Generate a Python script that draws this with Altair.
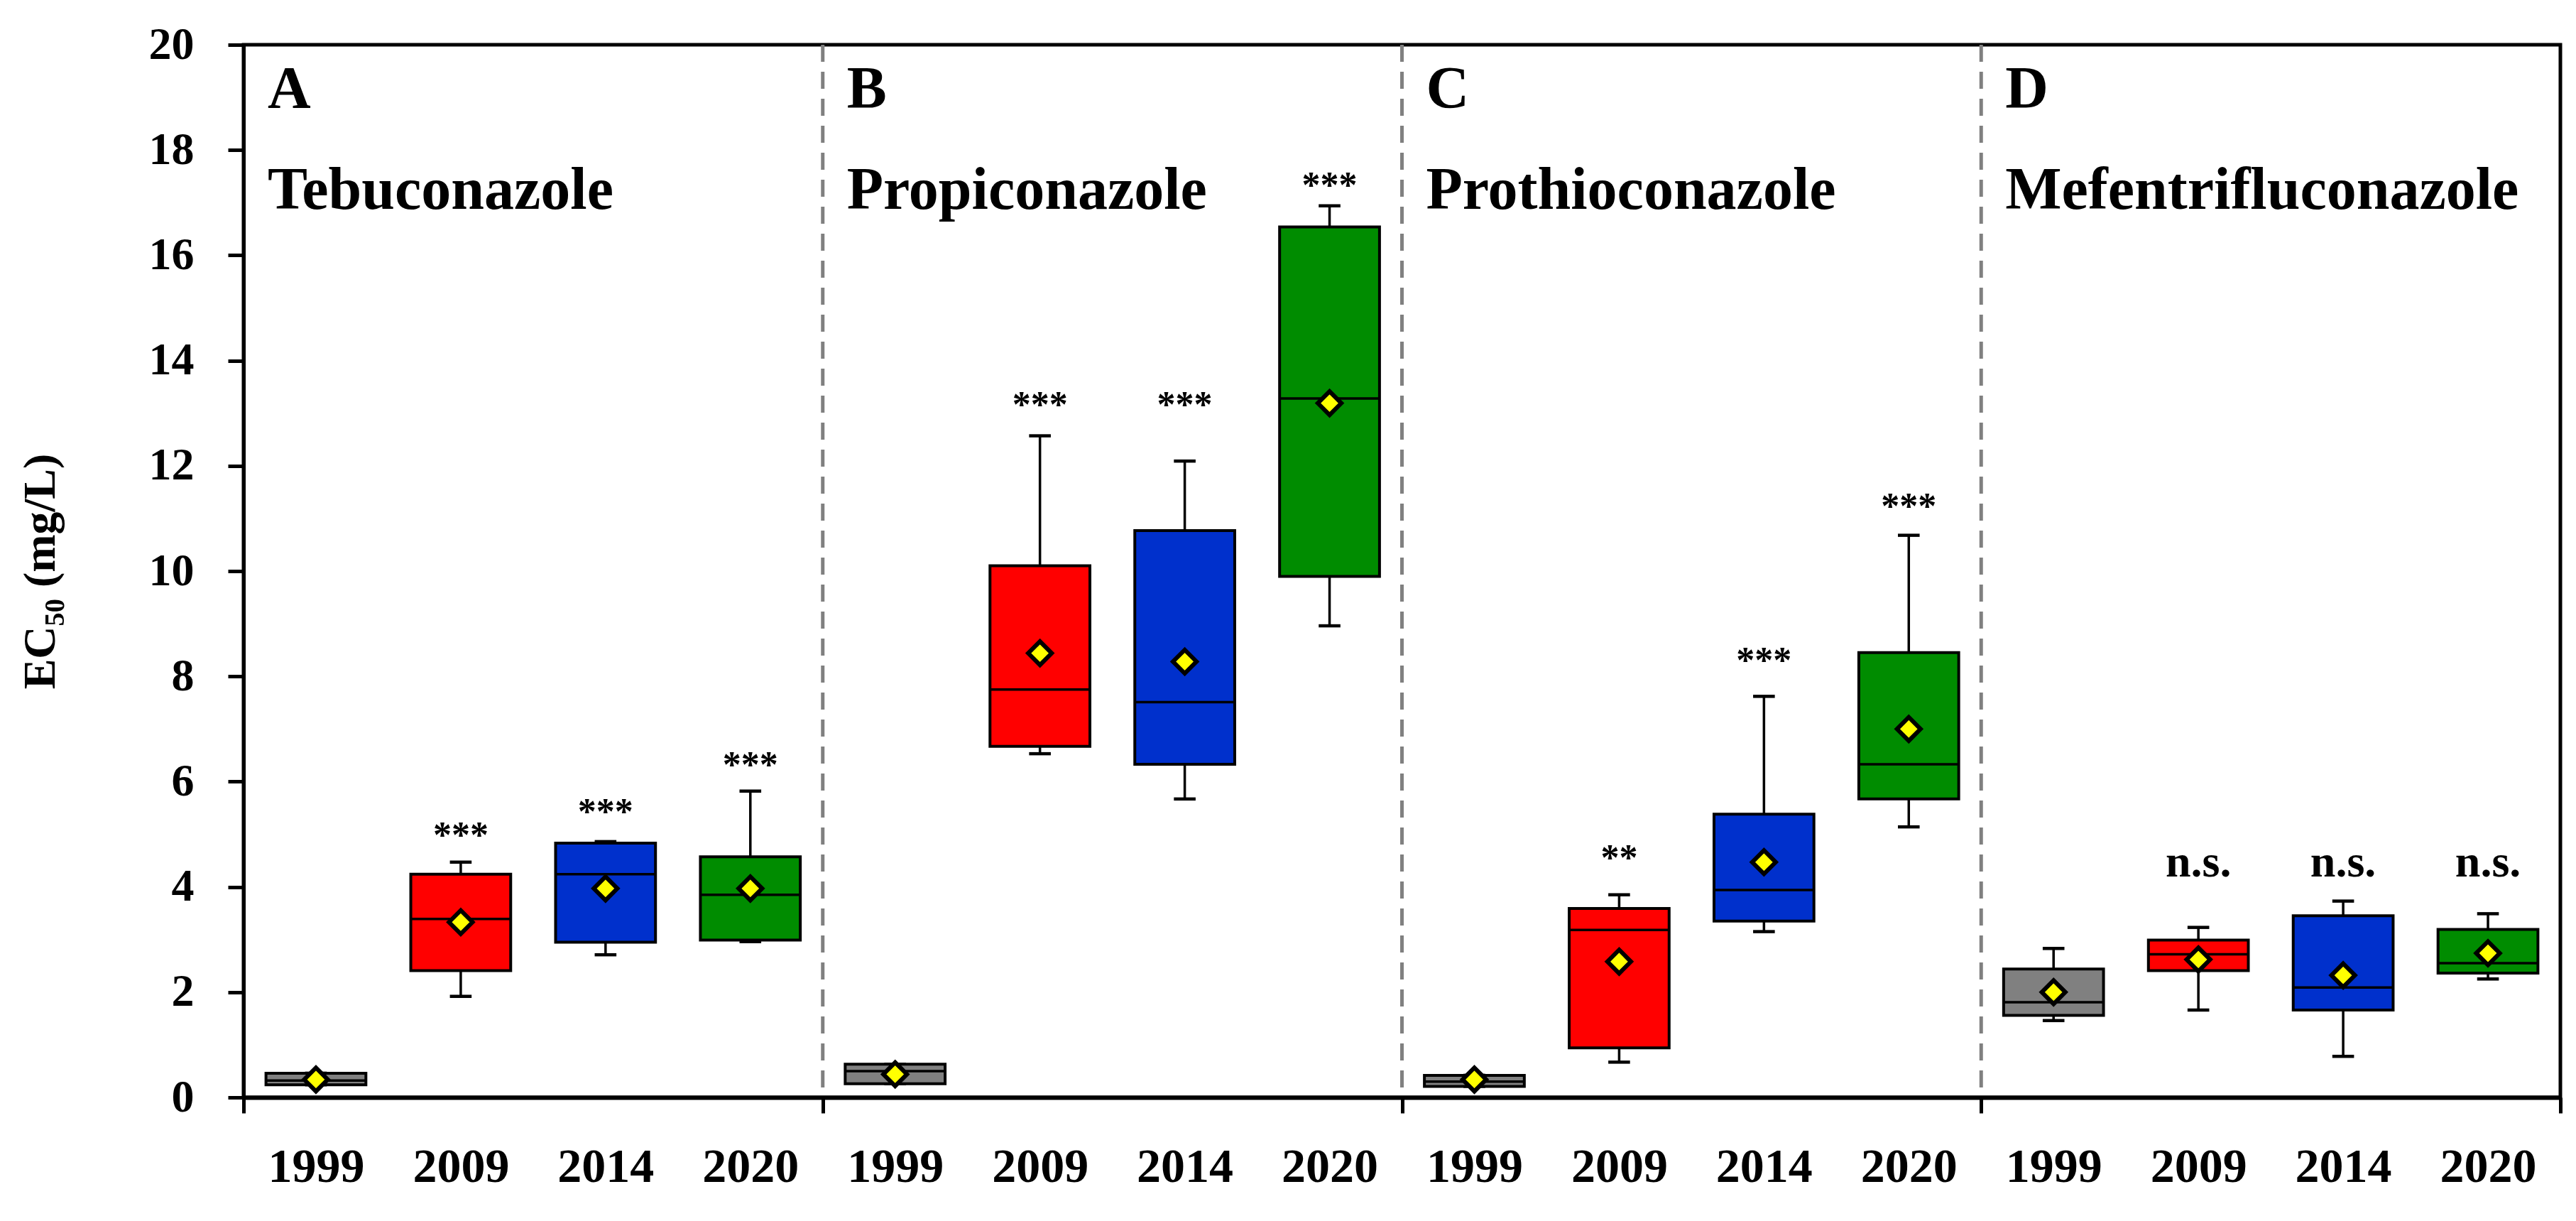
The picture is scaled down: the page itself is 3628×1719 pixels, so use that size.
import altair as alt
import pandas as pd

# ---------------- data ----------------
fungicides = ["Tebuconazole", "Propiconazole", "Prothioconazole", "Mefentrifluconazole"]
letters = ["A", "B", "C", "D"]
years = ["1999", "2009", "2014", "2020"]
colors = ["#808080", "#FF0000", "#0030CC", "#008C00"]

whisk_low = [[0.24, 1.92, 2.71, 2.96], [0.26, 6.53, 5.67, 8.96], [0.21, 0.67, 3.15, 5.14], [1.46, 1.66, 0.78, 2.25]]
q1 = [[0.24, 2.41, 2.95, 2.99], [0.26, 6.67, 6.33, 9.90], [0.21, 0.94, 3.35, 5.67], [1.56, 2.41, 1.66, 2.36]]
median = [[0.32, 3.39, 4.24, 3.85], [0.50, 7.75, 7.51, 13.28], [0.30, 3.18, 3.94, 6.33], [1.81, 2.72, 2.09, 2.55]]
q3 = [[0.46, 4.24, 4.83, 4.57], [0.63, 10.10, 10.77, 16.54], [0.42, 3.59, 5.38, 8.45], [2.44, 2.99, 3.45, 3.19]]
whisk_high = [[0.46, 4.47, 4.86, 5.82], [0.63, 12.57, 12.09, 16.94], [0.42, 3.85, 7.62, 10.68], [2.83, 3.23, 3.73, 3.49]]
mean = [[0.34, 3.33, 3.97, 3.97], [0.44, 8.44, 8.28, 13.19], [0.34, 2.58, 4.47, 7.00], [2.00, 2.62, 2.32, 2.74]]
sig = [["", "***", "***", "***"], ["", "***", "***", "***"], ["", "**", "***", "***"], ["", "n.s.", "n.s.", "n.s."]]
sig_y = [[0, 4.75, 5.19, 6.09], [0, 12.93, 12.93, 17.10], [0, 4.32, 8.07, 11.00], [0, 4.20, 4.20, 4.20]]
separators = [4, 8, 12]
boundaries = [0, 4, 8, 12, 16]
y_ticks = [0, 2, 4, 6, 8, 10, 12, 14, 16, 18, 20]

# ---------------- tables ----------------
rows = []
for p in range(4):
    for i in range(4):
        rows.append(dict(panel=p, slot=i, year=years[i],
                         lo=whisk_low[p][i], q1=q1[p][i], med=median[p][i],
                         q3=q3[p][i], hi=whisk_high[p][i], mean=mean[p][i],
                         sig=sig[p][i], sig_y=sig_y[p][i]))
df = pd.DataFrame(rows)
panels = pd.DataFrame({"panel": list(range(4)), "letter": letters, "name": fungicides})
seps = pd.DataFrame({"b": separators})

FONT = "Liberation Serif"
HALF = 0.345
CAP = 0.075

xscale = alt.Scale(domain=[0, 16], nice=False, zero=False)
yscale = alt.Scale(domain=[0, 20], nice=False, zero=True)

centers = [p * 4 + i + 0.5 for p in range(4) for i in range(4)]
label_expr = ""
for i, y in enumerate(years):
    label_expr += "floor(datum.value) % 4 == " + str(i) + " ? '" + y + "' : "
label_expr += "''"

x_axis_ticks = alt.Axis(
    values=boundaries, title=None, grid=False, labels=False, orient="bottom",
    tickSize=22, tickWidth=5, tickColor="black",
    domainWidth=6, domainColor="black",
)
x_axis_labels = alt.Axis(
    values=centers, title=None, grid=False, ticks=False, domain=False, orient="bottom",
    labelExpr=label_expr, labelPadding=64, labelOverlap=False, labelFlush=False,
    labelFont=FONT, labelFontSize=68, labelFontWeight="bold", labelColor="black",
)
y_axis = alt.Axis(
    values=y_ticks, title="EC₅₀ (mg/L)", grid=False, orient="left",
    tickSize=22, tickWidth=5, tickColor="black",
    domainWidth=5, domainColor="black",
    labelPadding=48, labelFont=FONT, labelFontSize=64, labelFontWeight="bold",
    labelColor="black", labelFlush=False,
    titleFont=FONT, titleFontSize=64, titleFontWeight="bold", titleColor="black",
    titlePadding=120,
)

base = alt.Chart(df).transform_calculate(
    pos="datum.panel * 4 + datum.slot + 0.5",
    bl="datum.panel * 4 + datum.slot + 0.5 - " + str(HALF),
    br="datum.panel * 4 + datum.slot + 0.5 + " + str(HALF),
    cl="datum.panel * 4 + datum.slot + 0.5 - " + str(CAP),
    cr="datum.panel * 4 + datum.slot + 0.5 + " + str(CAP),
)

sep_layer = alt.Chart(seps).mark_rule(color="#808080", strokeWidth=5, strokeDash=[24, 14]).encode(
    x=alt.X("b:Q", scale=xscale, axis=None)
)

whiskers = base.mark_rule(color="black", strokeWidth=3.5).encode(
    x=alt.X("pos:Q", scale=xscale, axis=None),
    y=alt.Y("lo:Q", scale=yscale, axis=y_axis),
    y2="hi:Q",
)
caps_lo = base.mark_rule(color="black", strokeWidth=4.5).encode(
    x=alt.X("cl:Q", scale=xscale, axis=None), x2="cr:Q",
    y=alt.Y("lo:Q", scale=yscale, axis=None),
)
caps_hi = base.mark_rule(color="black", strokeWidth=4.5).encode(
    x=alt.X("cl:Q", scale=xscale, axis=None), x2="cr:Q",
    y=alt.Y("hi:Q", scale=yscale, axis=None),
)
boxes = base.mark_bar(stroke="black", strokeWidth=4, opacity=1).encode(
    x=alt.X("bl:Q", scale=xscale, axis=x_axis_ticks), x2="br:Q",
    y=alt.Y("q1:Q", scale=yscale, axis=None), y2="q3:Q",
    color=alt.Color("year:N", scale=alt.Scale(domain=years, range=colors), legend=None),
)
medians = base.mark_rule(color="black", strokeWidth=3.5).encode(
    x=alt.X("bl:Q", scale=xscale, axis=x_axis_labels), x2="br:Q",
    y=alt.Y("med:Q", scale=yscale, axis=None),
)
means = base.mark_point(shape="diamond", filled=True, fill="#FFFF00", stroke="black",
                        strokeWidth=6, size=1100, opacity=1, fillOpacity=1, strokeOpacity=1).encode(
    x=alt.X("pos:Q", scale=xscale, axis=None),
    y=alt.Y("mean:Q", scale=yscale, axis=None),
)
sig_text = base.transform_filter("datum.sig != ''").mark_text(
    font=FONT, fontWeight="bold", color="black", baseline="alphabetic", align="center"
).encode(
    x=alt.X("pos:Q", scale=xscale, axis=None),
    y=alt.Y("sig_y:Q", scale=yscale, axis=None),
    text="sig:N",
    size=alt.condition("datum.sig == 'n.s.'", alt.value(64), alt.value(52)),
)

pbase = alt.Chart(panels).transform_calculate(px="datum.panel * 4", ly="18.8", ny="16.88")
letter_text = pbase.mark_text(font=FONT, fontWeight="bold", fontSize=84, color="black",
                              align="left", baseline="alphabetic", dx=34).encode(
    x=alt.X("px:Q", scale=xscale, axis=None),
    y=alt.Y("ly:Q", scale=yscale, axis=None),
    text="letter:N",
)
name_text = pbase.mark_text(font=FONT, fontWeight="bold", fontSize=84, color="black",
                            align="left", baseline="alphabetic", dx=34).encode(
    x=alt.X("px:Q", scale=xscale, axis=None),
    y=alt.Y("ny:Q", scale=yscale, axis=None),
    text="name:N",
)

chart = alt.layer(
    sep_layer, whiskers, caps_lo, caps_hi, boxes, medians, means, sig_text, letter_text, name_text
).resolve_axis(x="independent", y="independent").properties(
    width=3263, height=1482,
    autosize=alt.AutoSizeParams(type="none"),
    padding={"left": 335, "top": 55, "right": 14, "bottom": 150},
    background="white",
).configure_view(stroke="black", strokeWidth=5)

chart.save("out.html", embed_options={"renderer": "svg", "actions": False})
